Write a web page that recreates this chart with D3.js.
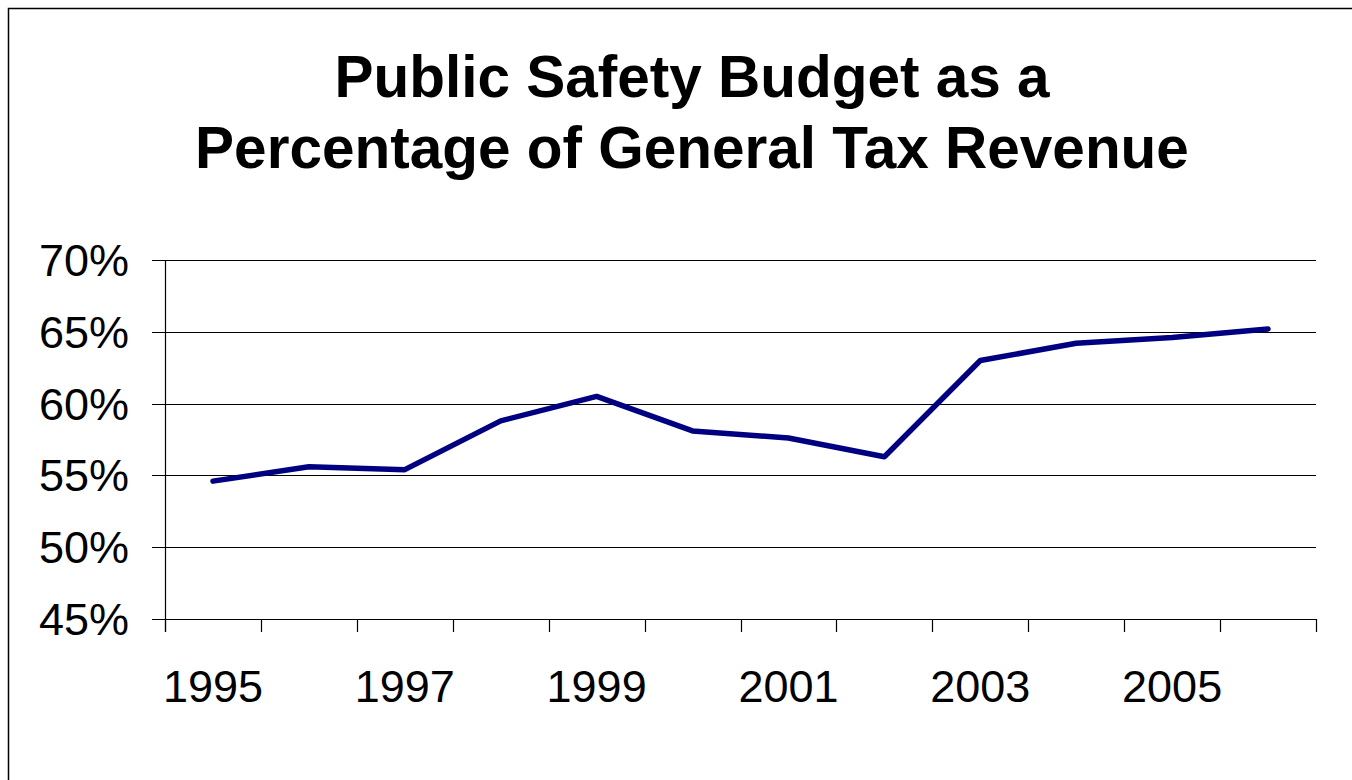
<!DOCTYPE html>
<html>
<head>
<meta charset="utf-8">
<script src="https://cdn.jsdelivr.net/npm/d3@7"></script>
<style>
  body { margin: 0; background: #fff; }
  text { font-family: "Liberation Sans", Arial, sans-serif; fill: #000; }
</style>
</head>
<body>
<script>
var years = ["1995","1996","1997","1998","1999","2000","2001","2002","2003","2004","2005","2006"];
var pct = [54.6, 55.6, 55.4, 58.8, 60.5, 58.1, 57.6, 56.3, 63.0, 64.2, 64.6, 65.2];
var yTicks = [45, 50, 55, 60, 65, 70];
var titleLines = ["Public Safety Budget as a", "Percentage of General Tax Revenue"];

var svg = d3.select("body").append("svg")
    .attr("width", 1352)
    .attr("height", 780);

// outer frame
svg.append("rect")
    .attr("x", 8.5).attr("y", 8.5)
    .attr("width", 1360).attr("height", 800)
    .attr("fill", "none").attr("stroke", "#000").attr("stroke-width", 1.5);

var margin = {left: 165, right: 36, top: 260, bottom: 161};
var width = 1352 - margin.left - margin.right;
var height = 780 - margin.top - margin.bottom;

var x = d3.scaleBand().domain(years).range([0, width]);
var y = d3.scaleLinear().domain([45, 70]).range([height, 0]);

// title
svg.append("g").selectAll("text")
  .data(titleLines)
  .enter().append("text")
    .attr("x", 692)
    .attr("y", function(d, i) { return 97 + i * 71; })
    .attr("text-anchor", "middle")
    .style("font-weight", "bold")
    .style("font-size", "58.5px")
    .text(function(d) { return d; });

var g = svg.append("g")
    .attr("transform", "translate(" + margin.left + "," + margin.top + ")");

// gridlines
g.append("g").selectAll("line")
  .data(yTicks)
  .enter().append("line")
    .attr("x1", -13).attr("x2", width)
    .attr("y1", function(d) { return Math.round(y(d)) + 0.5; })
    .attr("y2", function(d) { return Math.round(y(d)) + 0.5; })
    .attr("stroke", "#000").attr("stroke-width", 1.2);

// y axis line
g.append("line")
    .attr("x1", 0.5).attr("x2", 0.5)
    .attr("y1", 0).attr("y2", height + 13)
    .attr("stroke", "#000").attr("stroke-width", 1.2);

// y labels
g.append("g").selectAll("text")
  .data(yTicks)
  .enter().append("text")
    .attr("x", -36)
    .attr("y", function(d) { return y(d) + 16; })
    .attr("text-anchor", "end")
    .style("font-size", "45px")
    .text(function(d) { return d + "%"; });

// x ticks at category boundaries
var bounds = years.map(function(d) { return x(d); }).concat([width]);
g.append("g").selectAll("line")
  .data(bounds)
  .enter().append("line")
    .attr("x1", function(d) { return Math.round(d) + 0.5; })
    .attr("x2", function(d) { return Math.round(d) + 0.5; })
    .attr("y1", height).attr("y2", height + 13)
    .attr("stroke", "#000").attr("stroke-width", 1.2);

// x labels every other year
g.append("g").selectAll("text")
  .data(years.filter(function(d, i) { return i % 2 === 0; }))
  .enter().append("text")
    .attr("x", function(d) { return x(d) + x.bandwidth() / 2; })
    .attr("y", height + 83)
    .attr("text-anchor", "middle")
    .style("font-size", "45px")
    .text(function(d) { return d; });

// line
var line = d3.line()
    .x(function(d, i) { return x(years[i]) + x.bandwidth() / 2; })
    .y(function(d) { return y(d); });

g.append("path")
    .datum(pct)
    .attr("d", line)
    .attr("fill", "none")
    .attr("stroke", "#000080")
    .attr("stroke-width", 5.5)
    .attr("stroke-linejoin", "round")
    .attr("stroke-linecap", "round");
</script>
</body>
</html>
